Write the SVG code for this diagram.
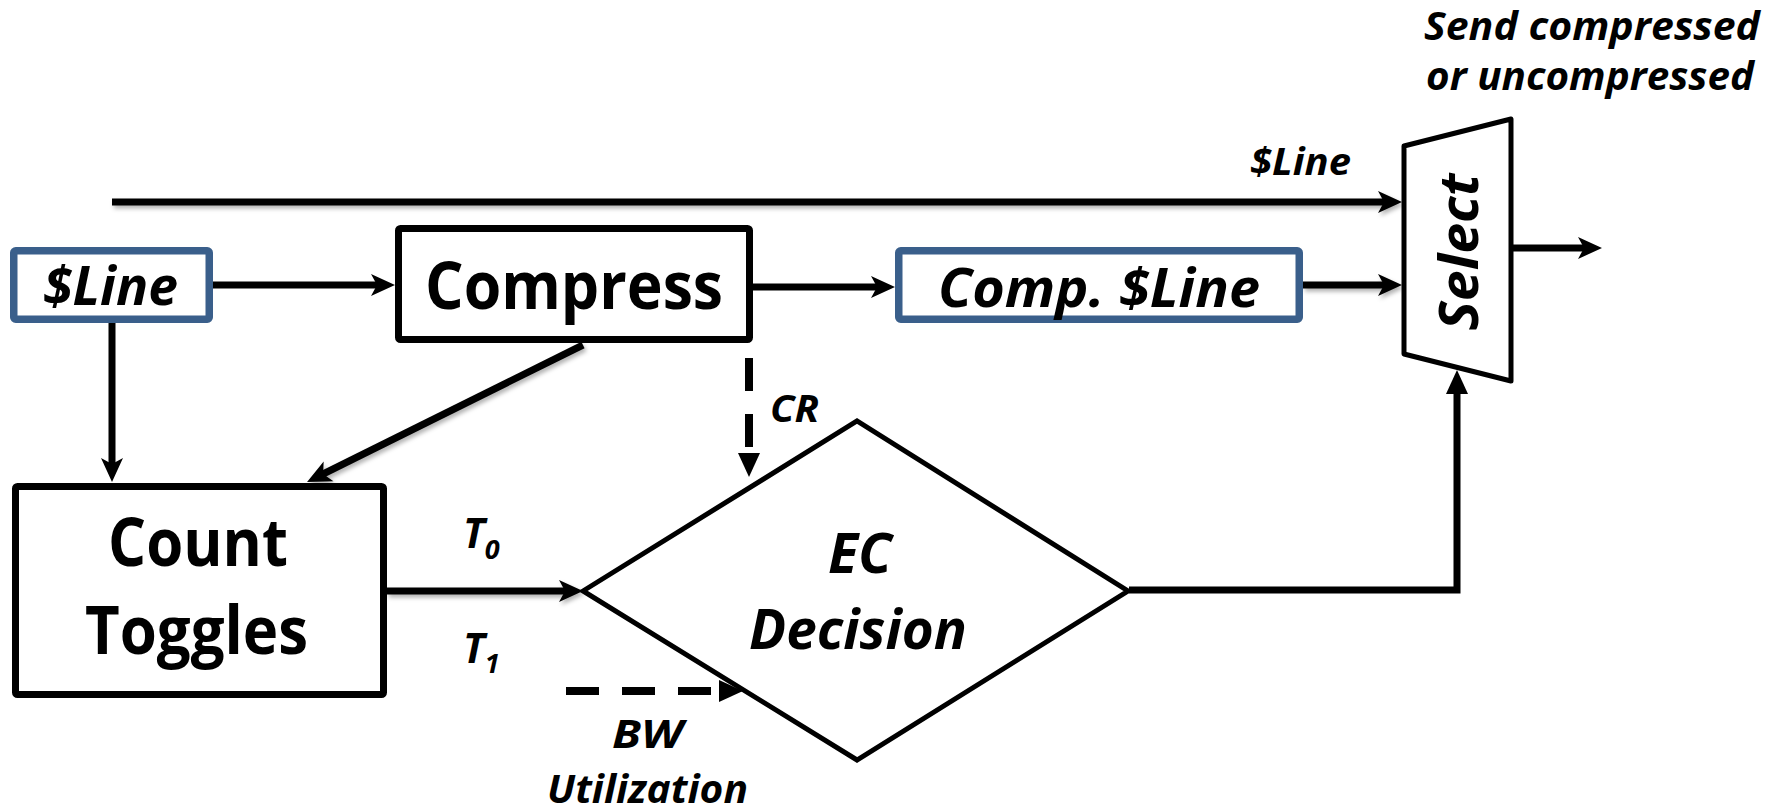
<svg xmlns="http://www.w3.org/2000/svg" width="1786" height="812" viewBox="0 0 1786 812">
<defs>
<style>
.t{font-family:"Open Sans","Liberation Sans",sans-serif;font-weight:700;fill:#000}
.i{font-style:italic}
.box{fill:#fff;stroke:#000;stroke-width:7}
.bbox{fill:#fff;stroke:#3A5F8B;stroke-width:7.5}
.shape{fill:#fff;stroke:#000;stroke-width:5}
.c{fill:none;stroke:#000;stroke-width:7}
.d{fill:none;stroke:#000;stroke-width:8;stroke-dasharray:33 23}
.sh{filter:url(#shadow)}
</style>
<filter id="shadow" filterUnits="userSpaceOnUse" x="0" y="0" width="1786" height="812">
<feDropShadow dx="2" dy="3" stdDeviation="2" flood-color="#000" flood-opacity="0.3"/>
</filter>
<marker id="arr" markerUnits="userSpaceOnUse" markerWidth="26" markerHeight="24" viewBox="0 -12 26 24" refX="14" refY="0" orient="auto">
<path d="M0,-11 L24,0 L0,11 L6,0 Z" fill="#000"/>
</marker>
<marker id="tri" markerUnits="userSpaceOnUse" markerWidth="26" markerHeight="24" viewBox="0 -12 26 24" refX="12" refY="0" orient="auto">
<path d="M0,-11 L24,0 L0,11 Z" fill="#000"/>
</marker>
</defs>
<rect width="1786" height="812" fill="#fff"/>

<g id="connectors">
<path class="c sh" d="M112,202 H1392" marker-end="url(#arr)"/>
<path class="c" d="M213,285 H385" marker-end="url(#arr)"/>
<path class="c" d="M753,287 H885" marker-end="url(#arr)"/>
<path class="c sh" d="M1303,285 H1392" marker-end="url(#arr)"/>
<path class="c" d="M1513,248 H1592" marker-end="url(#arr)"/>
<path class="c" d="M112,323 V472" marker-end="url(#arr)"/>
<path class="c sh" d="M583,345 L316,477.5" stroke-width="8" marker-end="url(#arr)"/>
<path class="c sh" d="M387,591 H573" marker-end="url(#arr)"/>
<path class="c" d="M1129,590 H1457 V382" marker-end="url(#tri)"/>
<path class="d" d="M749,358 V465" marker-end="url(#tri)"/>
<path class="d" d="M566,691 H731" marker-end="url(#tri)"/>
</g>

<g id="node-line">
<rect class="bbox" x="13.75" y="250.75" width="195.5" height="68.5" rx="2"/>
<text class="t i" x="43" y="305" font-size="54" textLength="135" lengthAdjust="spacingAndGlyphs">$Line</text>
</g>

<g id="node-compress">
<rect class="box" x="398.5" y="228.5" width="351" height="111" rx="2"/>
<text class="t" x="425" y="309" font-size="67" textLength="298" lengthAdjust="spacingAndGlyphs">Compress</text>
</g>

<g id="node-compline">
<rect class="bbox" x="898.75" y="250.75" width="400.5" height="68.5" rx="2"/>
<text class="t i" x="938" y="307" font-size="54" textLength="322" lengthAdjust="spacingAndGlyphs">Comp. $Line</text>
</g>

<g id="node-count">
<rect class="box" x="15.5" y="486.5" width="368" height="208" rx="2"/>
<text class="t" x="108" y="566" font-size="66" textLength="180" lengthAdjust="spacingAndGlyphs">Count</text>
<text class="t" x="85" y="654" font-size="66" textLength="223" lengthAdjust="spacingAndGlyphs">Toggles</text>
</g>

<g id="node-decision">
<polygon class="shape" points="583,591 857,421 1128,591 857,760"/>
<text class="t i" x="828" y="573" font-size="56" textLength="64" lengthAdjust="spacingAndGlyphs">EC</text>
<text class="t i" x="749" y="649" font-size="56" textLength="218" lengthAdjust="spacingAndGlyphs">Decision</text>
</g>

<g id="node-select">
<polygon class="shape" points="1404,146 1511,119 1511,381 1404,354" stroke-linejoin="round"/>
<text class="t i" transform="translate(1478,252) rotate(-90)" text-anchor="middle" font-size="53" textLength="157" lengthAdjust="spacingAndGlyphs">Select</text>
</g>

<g id="labels">
<text class="t i" x="1250" y="175" font-size="37" textLength="101" lengthAdjust="spacingAndGlyphs">$Line</text>
<text class="t i" x="1424" y="40" font-size="39" textLength="336" lengthAdjust="spacingAndGlyphs">Send compressed</text>
<text class="t i" x="1426" y="90" font-size="39" textLength="328" lengthAdjust="spacingAndGlyphs">or uncompressed</text>
<text class="t i" x="770" y="422" font-size="37" textLength="49" lengthAdjust="spacingAndGlyphs">CR</text>
<text class="t i" x="463" y="548" font-size="41">T<tspan font-size="27" dy="11">0</tspan></text>
<text class="t i" x="463" y="663" font-size="41">T<tspan font-size="27" dy="10">1</tspan></text>
<text class="t i" x="612" y="748" font-size="40" textLength="71" lengthAdjust="spacingAndGlyphs">BW</text>
<text class="t i" x="547" y="803" font-size="40" textLength="201" lengthAdjust="spacingAndGlyphs">Utilization</text>
</g>
</svg>
